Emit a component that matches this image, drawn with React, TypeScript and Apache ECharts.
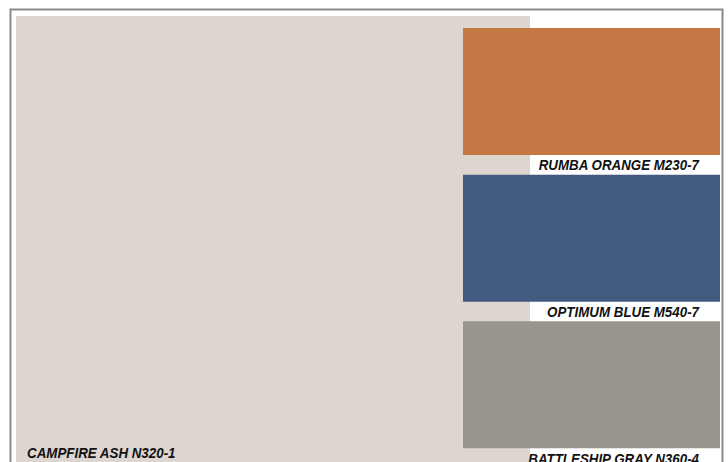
import React, { useEffect, useRef } from "react";
import * as echarts from "echarts";

const baseName = "CAMPFIRE ASH N320-1";
const baseColor = "#ddd6d0";
const swatchNames = ["RUMBA ORANGE M230-7", "OPTIMUM BLUE M540-7", "BATTLESHIP GRAY N360-4"];
const swatchColors = ["#c57843", "#435a80", "#97958e"];

const FONT = '"Liberation Sans", Arial, sans-serif';
const TEXT_SCALE = 0.89;

export default function App() {
  const ref = useRef<HTMLDivElement>(null);
  useEffect(() => {
    if (!ref.current) return;
    const chart = echarts.init(ref.current, null, { renderer: "svg" });
    chart.setOption({
      animation: false,
      backgroundColor: "#ffffff",
      grid: { left: 463, top: 28, width: 257, height: 440, outerBoundsMode: "none", containLabel: false },
      xAxis: { type: "value", min: 0, max: 1, show: false },
      yAxis: { type: "category", data: swatchNames, inverse: true, show: false },
      graphic: [
        {
          type: "rect",
          shape: { x: 16, y: 16, width: 514, height: 460 },
          style: { fill: baseColor },
          z: -10,
        },
        {
          type: "rect",
          shape: { x: 10.5, y: 9.5, width: 712, height: 480 },
          style: { fill: "none", stroke: "#8a8a8a", lineWidth: 2 },
          z: 10,
        },
        {
          type: "text",
          x: 27,
          y: 453,
          scaleX: TEXT_SCALE,
          style: {
            text: baseName,
            fill: "#111",
            font: `italic bold 15px ${FONT}`,
            textAlign: "left",
            textVerticalAlign: "middle",
          },
          z: 5,
        },
      ],
      series: [
        {
          type: "custom",
          clip: false,
          data: swatchNames.map((n, i) => [0, 1, i]),
          renderItem: (params: any, api: any) => {
            const i = api.value(2);
            const s = api.coord([api.value(0), i]);
            const e = api.coord([api.value(1), i]);
            const cs = params.coordSys;
            const band = cs.height / swatchNames.length;
            const top = s[1] - band / 2;
            const h = band * 0.866;
            return {
              type: "group",
              children: [
                {
                  type: "rect",
                  shape: { x: s[0], y: top, width: e[0] - s[0], height: h },
                  style: { fill: swatchColors[i] },
                },
                {
                  type: "text",
                  x: e[0] - 21,
                  y: top + h + 10,
                  scaleX: TEXT_SCALE,
                  style: {
                    text: swatchNames[i],
                    fill: "#111",
                    font: `italic bold 15px ${FONT}`,
                    textAlign: "right",
                    textVerticalAlign: "middle",
                  },
                },
              ],
            };
          },
        },
      ],
    });
    return () => chart.dispose();
  }, []);
  return (
    <div
      ref={ref}
      style={{ position: "fixed", left: 0, top: 0, width: 728, height: 462 }}
    />
  );
}
